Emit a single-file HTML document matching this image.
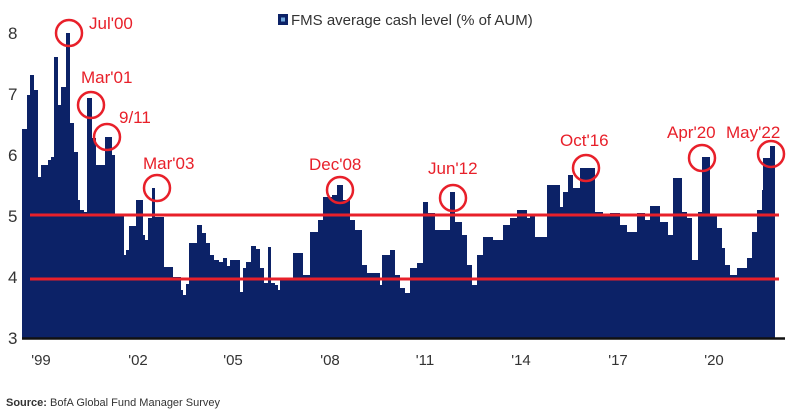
<!DOCTYPE html>
<html><head><meta charset="utf-8"><style>
body{margin:0;background:#fff;}
svg{display:block;font-family:"Liberation Sans",sans-serif;}
</style></head><body>
<svg width="793" height="411" viewBox="0 0 793 411">
<rect width="793" height="411" fill="#fff"/>
<path fill="#0c2267" d="M22 338 V129 H27 V95 H30 V75 H34 V90 H38 V177 H41 V165 H48 V160 H51 V157 H54 V57 H58 V105 H61 V87 H66 V33 H70 V123 H74 V152 H78 V200 H80 V210 H84 V212 H87 V98 H92 V138 H96 V165 H105 V137 H112 V155 H115 V215 H124 V255 H126 V250 H129 V226 H136 V200 H143 V235 H145 V240 H148 V218 H152 V188 H155 V217 H164 V267 H173 V277 H181 V290 H183 V295 H186 V284 H189 V243 H197 V225 H202 V233 H206 V243 H210 V255 H214 V260 H219 V262 H223 V258 H227 V266 H230 V260 H240 V292 H243 V268 H246 V262 H251 V246 H256 V249 H260 V268 H264 V283 H268 V247 H271 V283 H275 V285 H278 V290 H280 V280 H293 V253 H303 V275 H310 V232 H318 V220 H323 V197 H332 V195 H337 V185 H343 V200 H350 V220 H355 V230 H362 V265 H367 V273 H380 V285 H382 V255 H390 V250 H395 V275 H400 V288 H405 V293 H410 V268 H417 V263 H423 V202 H428 V213 H435 V230 H450 V192 H455 V222 H462 V235 H467 V265 H472 V285 H477 V255 H483 V237 H493 V240 H503 V225 H510 V218 H517 V210 H527 V218 H530 V215 H535 V237 H547 V185 H560 V207 H563 V192 H568 V175 H573 V188 H580 V168 H595 V212 H603 V215 H610 V213 H620 V225 H627 V232 H637 V213 H645 V220 H650 V206 H660 V222 H668 V235 H673 V178 H682 V212 H687 V218 H692 V260 H698 V212 H702 V157 H710 V215 H717 V228 H722 V248 H725 V265 H730 V275 H737 V268 H747 V258 H752 V232 H757 V210 H762 V190 H763 V158 H770 V146 H775 V338 Z"/>
<line x1="22" y1="338.5" x2="785" y2="338.5" stroke="#111" stroke-width="2.5"/>
<line x1="30" y1="215" x2="779" y2="215" stroke="#e8202a" stroke-width="3"/>
<line x1="30" y1="279" x2="779" y2="279" stroke="#e8202a" stroke-width="3"/>
<g font-size="17" fill="#333">
<text x="8" y="39">8</text><text x="8" y="100">7</text><text x="8" y="161">6</text><text x="8" y="222">5</text><text x="8" y="283">4</text><text x="8" y="344">3</text>
</g>
<g font-size="15" fill="#333" text-anchor="middle">
<text x="41" y="365">'99</text><text x="138" y="365">'02</text><text x="233" y="365">'05</text><text x="330" y="365">'08</text><text x="425" y="365">'11</text><text x="521" y="365">'14</text><text x="618" y="365">'17</text><text x="714" y="365">'20</text>
</g>
<g fill="none" stroke="#e8202a" stroke-width="2.5">
<circle cx="69" cy="33" r="13"/><circle cx="91" cy="105" r="13"/><circle cx="107" cy="137" r="13"/><circle cx="157" cy="188" r="13"/><circle cx="340" cy="190" r="13"/><circle cx="453" cy="198" r="13"/><circle cx="586" cy="168" r="13"/><circle cx="702" cy="158" r="13"/><circle cx="771" cy="154" r="13"/>
</g>
<g font-size="17" fill="#e8202a">
<text x="89" y="29">Jul'00</text><text x="81" y="83">Mar'01</text><text x="119" y="123">9/11</text><text x="143" y="169">Mar'03</text><text x="309" y="170">Dec'08</text><text x="428" y="174">Jun'12</text><text x="560" y="146">Oct'16</text><text x="667" y="138">Apr'20</text><text x="726" y="138">May'22</text>
</g>
<rect x="278" y="14" width="10" height="11" fill="#0c2267"/>
<rect x="281" y="17.5" width="4" height="4" fill="#6fa8dc"/>
<text x="291" y="25" font-size="15" fill="#333">FMS average cash level (% of AUM)</text>
<text x="6" y="406" font-size="11" fill="#333"><tspan font-weight="bold">Source:</tspan> BofA Global Fund Manager Survey</text>
</svg>
</body></html>
